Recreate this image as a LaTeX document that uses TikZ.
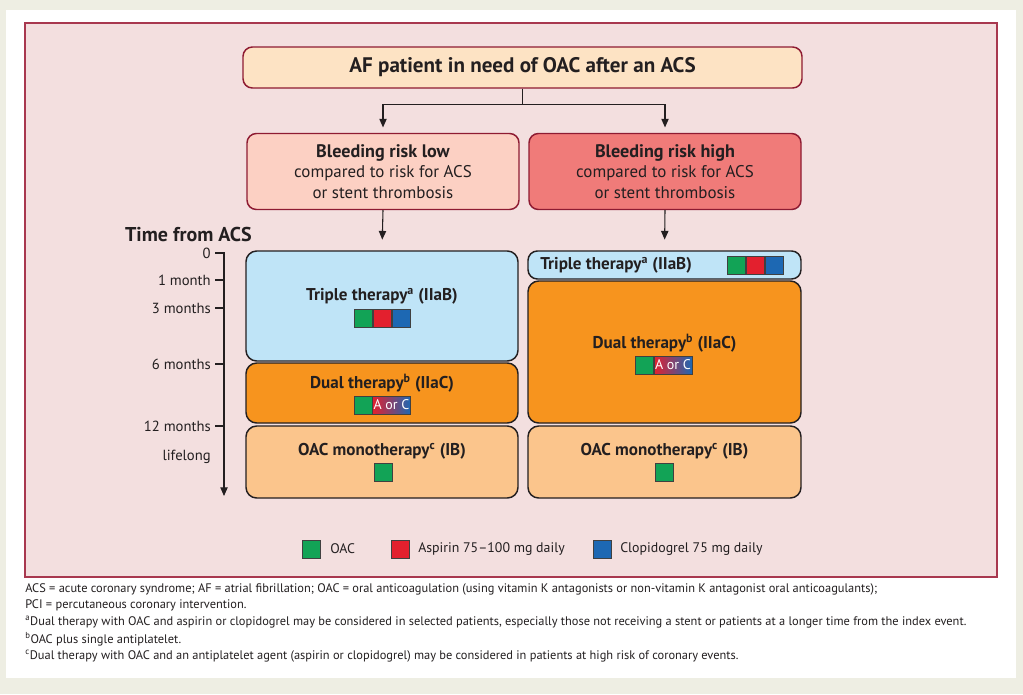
\documentclass[tikz,border=0pt]{standalone}
\usepackage{fontspec}
\setmainfont{PT Sans}
\usetikzlibrary{arrows.meta}

\definecolor{bgbeige}{HTML}{EEEEE3}
\definecolor{panelpink}{HTML}{F3DFDF}
\definecolor{framered}{HTML}{A8384F}
\definecolor{boxline}{HTML}{8E1B32}
\definecolor{startfill}{HTML}{FDE3C4}
\definecolor{lowfill}{HTML}{FCD0C3}
\definecolor{highfill}{HTML}{F07B79}
\definecolor{triplefill}{HTML}{BFE4F7}
\definecolor{dualfill}{HTML}{F7941E}
\definecolor{monofill}{HTML}{FBC58C}
\definecolor{oacgreen}{HTML}{12A356}
\definecolor{asared}{HTML}{E3202E}
\definecolor{clopblue}{HTML}{1D68B3}
\definecolor{inkdark}{HTML}{231F20}

\tikzset{
	decision/.style={draw=boxline, line width=1.1pt, rounded corners=7pt, align=center, text=inkdark},
	therapy/.style={draw=inkdark, line width=1.1pt, rounded corners=8pt},
	therapytext/.style={font=\bfseries\fontsize{12.8}{15}\selectfont, text=inkdark, inner sep=0pt},
	drug/.style={draw=black!75, line width=0.4pt, minimum size=18*0.75pt, inner sep=0pt},
	link/.style={draw=inkdark, line width=0.8pt, -{Triangle[length=6.5pt,width=5.5pt]}},
	timelabel/.style={anchor=east, font=\fontsize{11}{13}\selectfont, text=inkdark, inner sep=0pt},
	legendtext/.style={anchor=west, font=\fontsize{10.4}{13}\selectfont, text=inkdark, inner sep=0pt},
	foot/.style={anchor=west, font=\fontsize{9.3}{11}\selectfont, text=inkdark, inner sep=0pt}
}

\begin{document}
\begin{tikzpicture}[x=0.75pt, y=-0.75pt]
	% frame
	\fill[bgbeige] (0,0) rectangle (1023,694);
	\fill[white] (6,10) rectangle (1016,678);
	\filldraw[fill=panelpink, draw=framered, line width=0.8pt] (25,23) rectangle (997,577);

	% decision boxes
	\node[decision, fill=startfill, minimum width=559*0.75pt, minimum height=41*0.75pt,
		font=\bfseries\fontsize{15.8}{18}\selectfont] (start) at (522.5,67.5) {AF patient in need of OAC after an ACS};
	\node[decision, fill=lowfill, minimum width=272*0.75pt, minimum height=76*0.75pt,
		font=\fontsize{12.7}{15.4}\selectfont] (low) at (383,171.5)
		{{\bfseries\fontsize{13.6}{15.4}\selectfont Bleeding risk low}\\compared to risk for ACS\\or stent thrombosis};
	\node[decision, fill=highfill, minimum width=272*0.75pt, minimum height=76*0.75pt,
		font=\fontsize{12.7}{15.4}\selectfont] (high) at (665,171.5)
		{{\bfseries\fontsize{13.6}{15.4}\selectfont Bleeding risk high}\\compared to risk for ACS\\or stent thrombosis};

	% therapy boxes, low bleeding risk
	\node[therapy, fill=triplefill, minimum width=272*0.75pt, minimum height=110*0.75pt] (ltriple) at (382,306) {};
	\node[therapy, fill=dualfill, minimum width=272*0.75pt, minimum height=60*0.75pt] (ldual) at (382,393) {};
	\node[therapy, fill=monofill, minimum width=272*0.75pt, minimum height=72*0.75pt] (lmono) at (382,462) {};
	% therapy boxes, high bleeding risk
	\node[therapy, fill=triplefill, minimum width=273*0.75pt, minimum height=28*0.75pt, rounded corners=7pt] (htriple) at (664.5,265) {};
	\node[therapy, fill=dualfill, minimum width=273*0.75pt, minimum height=142*0.75pt] (hdual) at (664.5,352) {};
	\node[therapy, fill=monofill, minimum width=273*0.75pt, minimum height=72*0.75pt] (hmono) at (664.5,462) {};

	% connectors
	\draw[link, shorten >=4pt] (start.south) -- ++(0,16) -| (low.north);
	\draw[link, shorten >=4pt] (start.south) -- ++(0,16) -| (high.north);
	\draw[link, shorten >=8pt] (low.south) -- (ltriple.north);
	\draw[link, shorten >=8pt] (high.south) -- (htriple.north);

	% time axis
	\node[font=\bfseries\fontsize{15}{17}\selectfont, text=inkdark, anchor=east, inner sep=0pt] (timehead) at (252,234) {Time from ACS};
	\coordinate (t0) at (224,253);
	\coordinate (tend) at (224,496);
	\draw[link] (215,253) -- (t0) -- (tend);
	\foreach \y/\txt in {253/0, 280/1 month, 308/3 months, 364/6 months, 426/12 months}{
		\draw[inkdark, line width=0.8pt] (215,\y) -- (224,\y);
		\node[timelabel] (tl\y) at (211,\y) {\txt};
	}
	\node[timelabel] (tllife) at (211,457) {lifelong};

	% therapy labels, low risk
	\node[therapytext] (ltripletext) at (382,296) {Triple therapy\textsuperscript{a} (IIaB)};
	\node[drug, fill=oacgreen] (ltoac) at (363,318) {};
	\node[drug, fill=asared] (ltasa) at (382,318) {};
	\node[drug, fill=clopblue] (ltclop) at (401,318) {};
	\node[therapytext] (ldualtext) at (382,383) {Dual therapy\textsuperscript{b} (IIaC)};
	\node[drug, fill=oacgreen] (ldoac) at (363,405) {};
	\node[drug, minimum width=38*0.75pt, left color=asared, right color=clopblue, text=white,
		font=\fontsize{10.5}{12}\selectfont] (ldaorc) at (391.5,405) {A or C};
	\node[therapytext] (lmonotext) at (382,451) {OAC monotherapy\textsuperscript{c} (IB)};
	\node[drug, fill=oacgreen] (lmoac) at (383,472) {};

	% therapy labels, high risk
	\node[therapytext, anchor=west] (htripletext) at (540,265) {Triple therapy\textsuperscript{a} (IIaB)};
	\node[drug, fill=oacgreen] (htoac) at (736,265) {};
	\node[drug, fill=asared] (htasa) at (755,265) {};
	\node[drug, fill=clopblue] (htclop) at (774,265) {};
	\node[therapytext] (hdualtext) at (664.5,343) {Dual therapy\textsuperscript{b} (IIaC)};
	\node[drug, fill=oacgreen] (hdoac) at (644,365) {};
	\node[drug, minimum width=38*0.75pt, left color=asared, right color=clopblue, text=white,
		font=\fontsize{10.5}{12}\selectfont] (hdaorc) at (673,365) {A or C};
	\node[therapytext] (hmonotext) at (664.5,451) {OAC monotherapy\textsuperscript{c} (IB)};
	\node[drug, fill=oacgreen] (hmoac) at (664,472) {};

	% legend
	\node[drug, fill=oacgreen] (keyoac) at (311.5,549) {};
	\node[legendtext] (keyoactext) at (330,549) {OAC};
	\node[drug, fill=asared] (keyasa) at (400,549) {};
	\node[legendtext] (keyasatext) at (418,549) {Aspirin 75–100 mg daily};
	\node[drug, fill=clopblue] (keyclop) at (602.5,549) {};
	\node[legendtext] (keycloptext) at (620,549) {Clopidogrel 75 mg daily};

	% footnotes
	\node[foot] (fn1) at (25,589) {ACS = acute coronary syndrome; AF = atrial fibrillation; OAC = oral anticoagulation (using vitamin K antagonists or non-vitamin K antagonist oral anticoagulants);};
	\node[foot] (fn2) at (25,605) {PCI = percutaneous coronary intervention.};
	\node[foot] (fn3) at (25,622) {\textsuperscript{a}Dual therapy with OAC and aspirin or clopidogrel may be considered in selected patients, especially those not receiving a stent or patients at a longer time from the index event.};
	\node[foot] (fn4) at (25,639) {\textsuperscript{b}OAC plus single antiplatelet.};
	\node[foot] (fn5) at (25,656) {\textsuperscript{c}Dual therapy with OAC and an antiplatelet agent (aspirin or clopidogrel) may be considered in patients at high risk of coronary events.};
\end{tikzpicture}
\end{document}
